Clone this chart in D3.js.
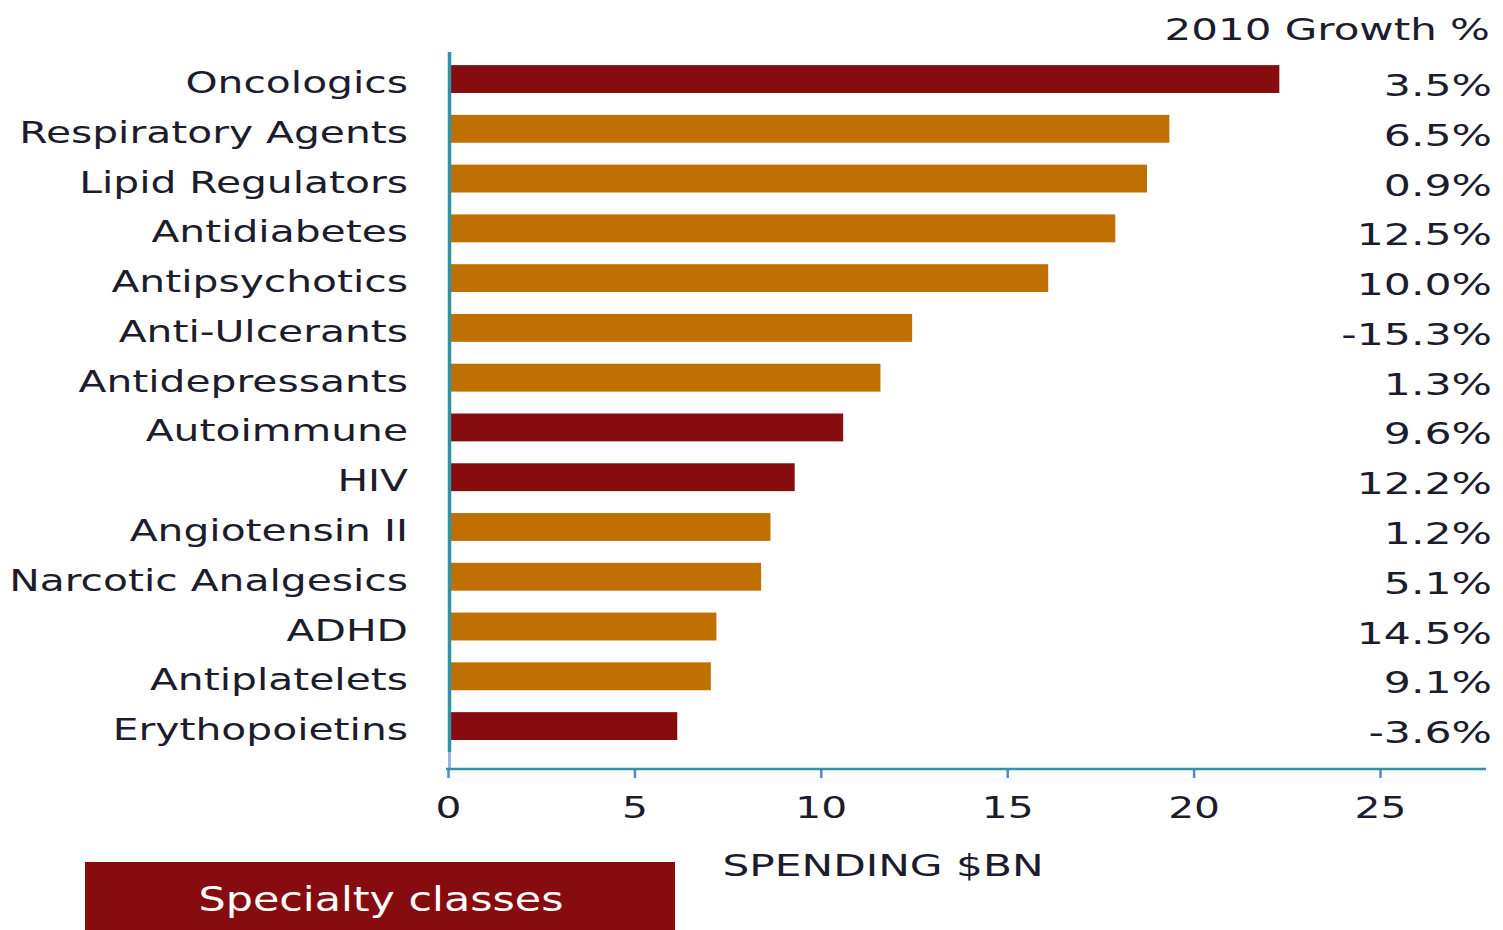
<!doctype html>
<html>
  <head>
    <script src="https://cdn.jsdelivr.net/npm/d3@7"></script>
    <style>
      body { margin: 0; background: #fff; }
      text { font-family: "DejaVu Sans", Verdana, sans-serif; fill: #1c1c2c; }
    </style>
  </head>
  <body>
    <script>
    // drug classes, top to bottom
    var categories = ["Oncologics", "Respiratory Agents", "Lipid Regulators", "Antidiabetes",
      "Antipsychotics", "Anti-Ulcerants", "Antidepressants", "Autoimmune", "HIV",
      "Angiotensin II", "Narcotic Analgesics", "ADHD", "Antiplatelets", "Erythopoietins"];

    // spending, $bn
    var spending = [22.3, 19.35, 18.75, 17.9, 16.1, 12.45, 11.6, 10.6, 9.3, 8.65, 8.4, 7.2, 7.05, 6.15];

    var growth = ["3.5%", "6.5%", "0.9%", "12.5%", "10.0%", "-15.3%", "1.3%", "9.6%",
      "12.2%", "1.2%", "5.1%", "14.5%", "9.1%", "-3.6%"];

    // specialty classes drawn in dark red
    var specialty = ["Oncologics", "Autoimmune", "HIV", "Erythopoietins"];

    var xTicks = [0, 5, 10, 15, 20, 25];

    var width = 1503;
    var height = 930;

    // the source text is stretched sideways, more for digits
    var sxLabel = 1.36;
    var sxNum = 1.42;

    var svg = d3.select("body")
              .append("svg")
              .attr("width", width)
              .attr("height", height);

    var x = d3.scaleLinear()
              .domain([0, 25])
              .range([448, 1380]);

    var y = d3.scaleBand()
              .domain(categories)
              .range([43.2, 761.9])
              .padding(0.44);

    var data = categories.map(function(c, i) {
      return {name: c, value: spending[i], growth: growth[i]};
    });

    // bars
    svg.selectAll('.bar')
      .data(data)
      .enter()
      .append('rect')
        .attr('class', 'bar')
        .attr('x', x(0))
        .attr('y', function(d) { return y(d.name); })
        .attr('width', function(d) { return x(d.value) - x(0); })
        .attr('height', y.bandwidth())
        .attr('fill', function(d) {
          return specialty.indexOf(d.name) >= 0 ? '#870c0f' : '#c07000';
        });

    // vertical axis line
    svg.append('line')
      .attr('x1', 449.5).attr('x2', 449.5)
      .attr('y1', 52).attr('y2', 752)
      .attr('stroke', '#2e93a5')
      .attr('stroke-width', 3.5);
    svg.append('line')
      .attr('x1', 449.5).attr('x2', 449.5)
      .attr('y1', 752).attr('y2', 769)
      .attr('stroke', '#9fb6de')
      .attr('stroke-width', 3);

    // x axis
    var xAxis = d3.axisBottom(x)
                  .tickValues(xTicks)
                  .tickSize(9)
                  .tickSizeOuter(0);

    var gx = svg.append('g')
      .attr('transform', 'translate(0,769)')
      .call(xAxis);

    gx.select('.domain').remove();
    gx.selectAll('.tick line')
      .attr('stroke', '#5b86c4')
      .attr('stroke-width', 2.5);
    gx.selectAll('.tick text')
      .attr('y', 0)
      .attr('dy', 0)
      .attr('transform', 'translate(0,49) scale(1.36,1)')
      .style('font-size', '30px')
      .style('font-family', '"DejaVu Sans", Verdana, sans-serif')
      .attr('fill', '#1c1c2c');

    svg.append('line')
      .attr('x1', 446).attr('x2', 1486)
      .attr('y1', 769).attr('y2', 769)
      .attr('stroke', '#2e93a5')
      .attr('stroke-width', 2.5);

    // category labels
    svg.selectAll('.cat-label')
      .data(data)
      .enter()
      .append('text')
        .attr('class', 'cat-label')
        .attr('text-anchor', 'end')
        .attr('transform', function(d) {
          return 'translate(408,' + (y(d.name) + y.bandwidth() / 2 + 14) + ') scale(' + sxLabel + ',1)';
        })
        .style('font-size', '30px')
        .text(function(d) { return d.name; });

    // growth column
    svg.selectAll('.growth-label')
      .data(data)
      .enter()
      .append('text')
        .attr('class', 'growth-label')
        .attr('text-anchor', 'end')
        .attr('transform', function(d) {
          return 'translate(1492,' + (y(d.name) + y.bandwidth() / 2 + 17) + ') scale(' + sxNum + ',1)';
        })
        .style('font-size', '30px')
        .text(function(d) { return d.growth; });

    svg.append('text')
      .attr('text-anchor', 'end')
      .attr('transform', 'translate(1490,40) scale(1.40,1)')
      .style('font-size', '30px')
      .text('2010 Growth %');

    // axis title
    svg.append('text')
      .attr('text-anchor', 'middle')
      .attr('transform', 'translate(883,876) scale(1.41,1)')
      .style('font-size', '30px')
      .text('SPENDING $BN');

    // legend box
    svg.append('rect')
      .attr('x', 85)
      .attr('y', 862)
      .attr('width', 590)
      .attr('height', 70)
      .attr('fill', '#870c0f');

    svg.append('text')
      .attr('text-anchor', 'middle')
      .attr('transform', 'translate(381,911) scale(1.26,1)')
      .style('font-size', '34px')
      .style('fill', '#fff')
      .text('Specialty classes');
    </script>
  </body>
</html>
